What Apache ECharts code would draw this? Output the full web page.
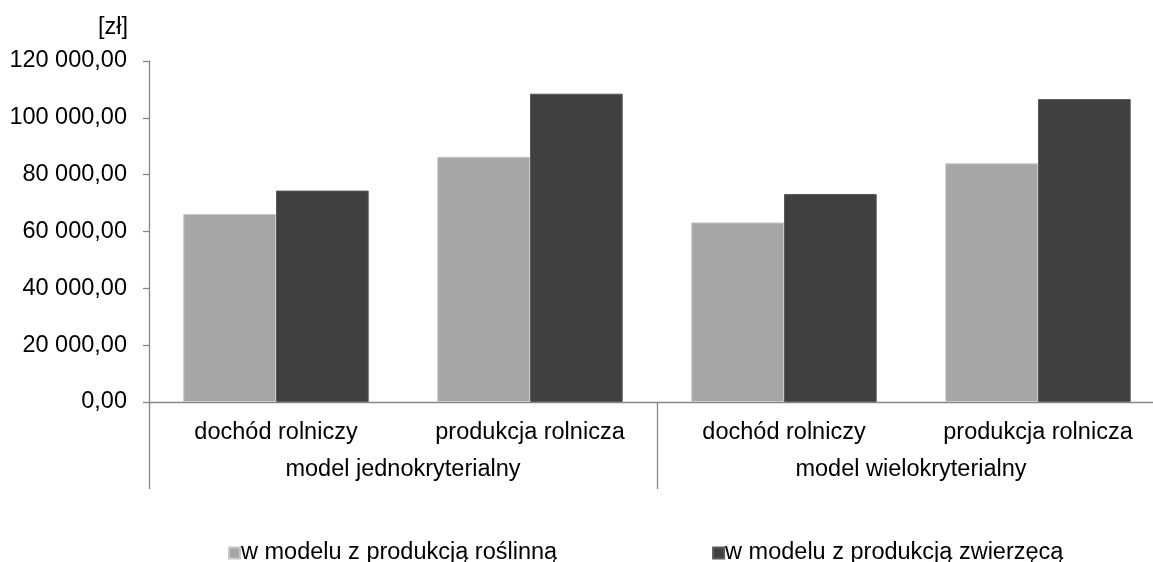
<!DOCTYPE html>
<html>
<head>
<meta charset="utf-8">
<script src="https://cdn.jsdelivr.net/npm/echarts@6/dist/echarts.min.js"></script>
<style>
html,body{margin:0;padding:0;background:#fff;}
#chart{width:1153px;height:562px;}
</style>
</head>
<body>
<div id="chart"></div>
<script>
var categories = ['dochód rolniczy', 'produkcja rolnicza', 'dochód rolniczy', 'produkcja rolnicza'];
var groups = ['model jednokryterialny', 'model wielokryterialny'];
var seriesNames = ['w modelu z produkcją roślinną', 'w modelu z produkcją zwierzęcą'];
var plantValues = [66200, 86300, 63200, 84000];
var animalValues = [74400, 108500, 73200, 106600];
var yUnit = '[zł]';

var FONT = 'Liberation Sans, Arial, sans-serif';
var AXIS = '#868686';
var FS = 23.5;

function fmt(v) {
  var s = String(Math.round(v));
  s = s.replace(/\B(?=(\d{3})+(?!\d))/g, ' ');
  return s + ',00';
}

var chart = echarts.init(document.getElementById('chart'), null, {renderer: 'canvas'});
chart.setOption({
  animation: false,
  backgroundColor: '#fff',
  textStyle: {fontFamily: FONT},
  grid: {left: 149, top: 61, width: 1016, height: 341, containLabel: false, outerBoundsMode: 'none'},
  legend: {
    left: 223, top: 536,
    itemWidth: 11, itemHeight: 11, itemGap: 155,
    icon: 'rect',
    textStyle: {fontFamily: FONT, fontSize: FS, color: '#000', padding: [0, 0, 0, -4]},
    data: seriesNames
  },
  xAxis: [
    {
      type: 'category',
      data: categories,
      position: 'bottom',
      axisLine: {show: true, lineStyle: {color: AXIS, width: 1.3}},
      axisTick: {show: false},
      axisLabel: {fontFamily: FONT, fontSize: FS, color: '#000', margin: 19, interval: 0}
    },
    {
      type: 'category',
      data: groups,
      position: 'bottom',
      axisLine: {show: false},
      axisTick: {show: true, length: 87, lineStyle: {color: AXIS, width: 1.3}},
      axisLabel: {fontFamily: FONT, fontSize: FS, color: '#000', margin: 56, interval: 0},
      splitLine: {show: false}
    }
  ],
  yAxis: {
    type: 'value',
    min: 0, max: 120000, interval: 20000,
    name: yUnit,
    nameLocation: 'end',
    nameGap: 33,
    nameTextStyle: {fontFamily: FONT, fontSize: FS, color: '#000', align: 'right', verticalAlign: 'middle', padding: [0, 21, 0, 0]},
    axisLine: {show: true, lineStyle: {color: AXIS, width: 1.3}},
    axisTick: {show: true, length: 6, inside: false, lineStyle: {color: AXIS, width: 1.3}},
    splitLine: {show: false},
    axisLabel: {fontFamily: FONT, fontSize: FS, color: '#000', margin: 22, formatter: fmt}
  },
  series: [
    {
      name: seriesNames[0], type: 'bar', xAxisIndex: 0,
      data: plantValues,
      barGap: '0%', barCategoryGap: '27%',
      itemStyle: {color: '#a6a6a6', borderColor: '#c8c8c8', borderWidth: 1}
    },
    {
      name: seriesNames[1], type: 'bar', xAxisIndex: 0,
      data: animalValues,
      barGap: '0%', barCategoryGap: '27%',
      itemStyle: {color: '#404040', borderColor: '#5a5a5a', borderWidth: 1}
    }
  ]
});
</script>
</body>
</html>
